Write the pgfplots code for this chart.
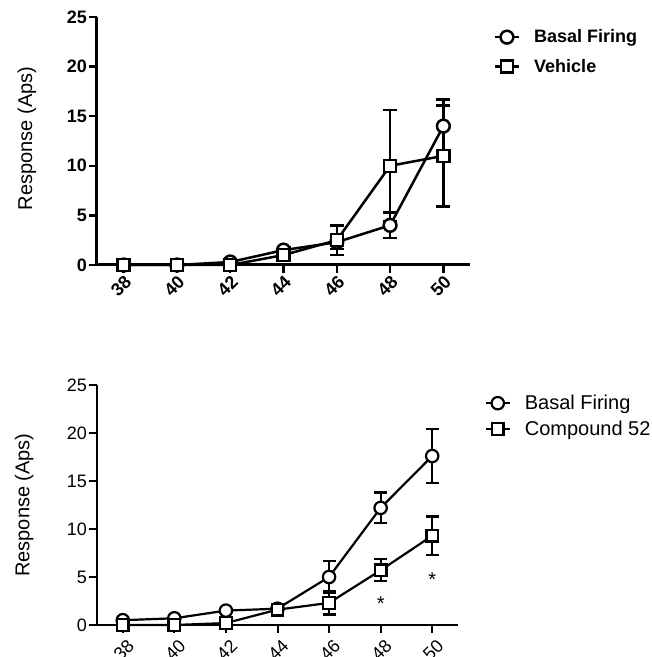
\documentclass[border=0pt]{standalone}
\usepackage{pgfplots}
\pgfplotsset{compat=1.18}
\usepackage{fontspec}
\setmainfont{Liberation Sans}
\begin{document}
\begin{tikzpicture}
\useasboundingbox (0,0) rectangle (652pt,657pt);
\pgfplotsset{
  myax/.style={
    scale only axis, clip=false,
    xmin=37, xmax=51, ymin=0, ymax=25,
    axis x line=bottom, axis y line=left,
    xtick={38,40,...,50}, ytick={0,5,...,25},
    tick align=outside, major tick length=8pt,
    /pgf/number format/assume math mode=true,
    xticklabel style={rotate=45, anchor=north east, inner sep=1pt},
    yticklabel style={inner sep=2pt},
    legend cell align=left,
    legend image code/.code={\draw[mark repeat=2,mark phase=2] plot coordinates {(0pt,0pt) (12pt,0pt) (24pt,0pt)}; \path (36pt,0pt);},
  },
}
% ---------------- top panel ----------------
\begin{axis}[myax,
  at={(97pt,392pt)}, anchor=south west,
  width=373pt, height=248pt,
  axis line style={line width=3pt,-},
  tick style={line width=2.5pt,black},
  ticklabel style={font=\fontsize{18}{20}\selectfont\bfseries},
  ylabel={Response (Aps)},
  ylabel style={at={(axis description cs:-0.188,0.51)}, anchor=center, font=\fontsize{20}{24}\selectfont},
  legend style={draw=none, fill=none, at={(1.055,0.965)}, anchor=north west,
    font=\fontsize{18}{22}\selectfont\bfseries, row sep=11pt,
    nodes={inner sep=2pt}},
]
\addplot[black, line width=2.5pt, mark=*, mark size=6.4pt, mark options={fill=white, line width=2.5pt},
  error bars/.cd, y dir=both, y explicit,
  error bar style={line width=2.5pt},
  error mark options={rotate=90, mark size=7pt, line width=2.5pt}]
  table[x=x, y=y, y error=e] {
x y e
38 0 0
40 0 0
42 0.3 0
44 1.5 0.3
46 2.3 0.7
48 4.0 1.3
50 14.0 2.7
};
\addlegendentry{Basal Firing}
\addplot[black, line width=2.5pt, mark=square*, mark size=6pt, mark options={fill=white, line width=2.5pt},
  error bars/.cd, y dir=both, y explicit,
  error bar style={line width=2.5pt},
  error mark options={rotate=90, mark size=7pt, line width=2.5pt}]
  table[x=x, y=y, y error=e] {
x y e
38 0 0
40 0 0
42 0 0
44 1.0 0.3
46 2.5 1.5
48 10.0 5.6
50 11.0 5.1
};
\addlegendentry{Vehicle}
\end{axis}
% ---------------- bottom panel ----------------
\begin{axis}[myax,
  at={(97pt,32pt)}, anchor=south west,
  width=361pt, height=240pt,
  axis line style={line width=2.2pt,-},
  tick style={line width=2pt,black},
  ticklabel style={font=\fontsize{18}{20}\selectfont},
  xticklabel style={yshift=-5pt},
  ylabel={Response (Aps)},
  ylabel style={at={(axis description cs:-0.202,0.5)}, anchor=center, font=\fontsize{20}{24}\selectfont},
  legend style={draw=none, fill=none, at={(1.065,0.975)}, anchor=north west,
    font=\fontsize{20}{24}\selectfont, row sep=6pt,
    nodes={inner sep=2pt}},
]
\addplot[black, line width=2.2pt, mark=*, mark size=6.2pt, mark options={fill=white, line width=2.2pt},
  error bars/.cd, y dir=both, y explicit,
  error bar style={line width=2.2pt},
  error mark options={rotate=90, mark size=6.5pt, line width=2.2pt}]
  table[x=x, y=y, y error=e] {
x y e
38 0.5 0.1
40 0.7 0.1
42 1.5 0.2
44 1.7 0.2
46 5.0 1.7
48 12.2 1.6
50 17.6 2.8
};
\addlegendentry{Basal Firing}
\addplot[black, line width=2.2pt, mark=square*, mark size=5.8pt, mark options={fill=white, line width=2.2pt},
  error bars/.cd, y dir=both, y explicit,
  error bar style={line width=2.2pt},
  error mark options={rotate=90, mark size=6.5pt, line width=2.2pt}]
  table[x=x, y=y, y error=e] {
x y e
38 0 0
40 0 0
42 0.2 0
44 1.6 0.2
46 2.3 1.2
48 5.7 1.15
50 9.3 2.0
};
\addlegendentry{Compound 52}
\node[font=\fontsize{20}{24}\selectfont] at (axis cs:48,2.2) {*};
\node[font=\fontsize{20}{24}\selectfont] at (axis cs:50,4.7) {*};
\end{axis}
\end{tikzpicture}
\end{document}
